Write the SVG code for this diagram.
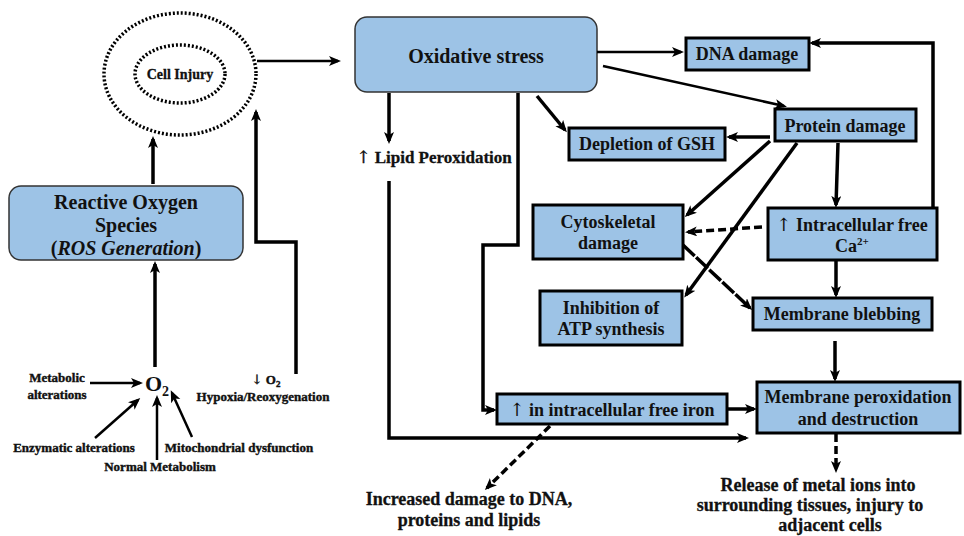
<svg xmlns="http://www.w3.org/2000/svg" width="964" height="536" viewBox="0 0 964 536">
<defs>
<marker id="ah" markerUnits="userSpaceOnUse" markerWidth="13" markerHeight="11" refX="9" refY="5" orient="auto">
<path d="M0,0 L12,5 L0,10 L3,5 z" fill="#000"/>
</marker>
</defs>
<style>
text{font-family:'Liberation Serif','Tinos','DejaVu Serif',serif;font-weight:bold;fill:#111;text-anchor:middle}
.ar{font-family:'DejaVu Serif','DejaVu Sans',serif;font-weight:normal}
.box{fill:#9DC3E6;stroke:#000;stroke-width:3}
.rbox{fill:#9DC3E6;stroke:#333;stroke-width:1.5}
.dot{fill:none;stroke:#000;stroke-width:3.5;stroke-dasharray:2 2}
.c{fill:none;stroke:#000;stroke-width:3.5;marker-end:url(#ah)}
.t{stroke-width:2.5}
.d{stroke-dasharray:8 4}
.d2{stroke-dasharray:16 2}
.b{font-size:18px}
.s{font-size:13px;stroke:#111;stroke-width:0.4}
.l{font-size:18px;stroke:#111;stroke-width:0.3}
</style>
<rect width="964" height="536" fill="#fff"/>

<g id="cell-injury">
<ellipse class="dot" cx="180" cy="74" rx="76" ry="61"/>
<ellipse class="dot" cx="180" cy="74" rx="45" ry="29"/>
<text x="180" y="79" style="font-size:14px;stroke:#111;stroke-width:0.3">Cell Injury</text>
</g>

<g id="ros">
<rect class="rbox" x="9" y="186" width="234" height="74" rx="12"/>
<text x="126" y="209" style="font-size:20px">Reactive Oxygen</text>
<text x="126" y="232" style="font-size:20px">Species</text>
<text x="126" y="255" style="font-size:20px">(<tspan font-style="italic">ROS Generation</tspan>)</text>
</g>

<g id="o2">
<text x="157" y="391" style="font-size:22px">O<tspan font-size="14" dy="5">2</tspan></text>
</g>
<g id="metabolic"><text class="s" x="57" y="382">Metabolic</text><text class="s" x="57" y="399">alterations</text></g>
<g id="enzymatic"><text class="s" x="74" y="452">Enzymatic alterations</text></g>
<g id="normal"><text class="s" x="160" y="471">Normal Metabolism</text></g>
<g id="mito"><text class="s" x="239" y="452">Mitochondrial dysfunction</text></g>
<g id="hypoxia">
<text class="s" x="266" y="384"><tspan class="ar">↓</tspan> O<tspan font-size="9" dy="3">2</tspan></text>
<text class="s" x="263" y="401">Hypoxia/Reoxygenation</text>
</g>

<g id="oxidative-stress">
<rect class="rbox" x="355" y="17" width="242" height="75" rx="12"/>
<text x="476" y="63" style="font-size:20px">Oxidative stress</text>
</g>

<g id="lipid"><text x="434" y="163" style="font-size:17px;stroke:#111;stroke-width:0.3"><tspan class="ar">↑</tspan> Lipid Peroxidation</text></g>

<g id="dna"><rect class="box" x="686" y="38" width="123" height="32"/><text class="b" x="747" y="60">DNA damage</text></g>
<g id="protein"><rect class="box" x="775" y="109" width="141" height="32"/><text class="b" x="845" y="132">Protein damage</text></g>
<g id="gsh"><rect class="box" x="569" y="128" width="156" height="32"/><text class="b" x="647" y="150">Depletion of GSH</text></g>
<g id="cyto"><rect class="box" x="533" y="205" width="150" height="54"/><text class="b" x="608" y="228">Cytoskeletal</text><text class="b" x="608" y="249">damage</text></g>
<g id="atp"><rect class="box" x="540" y="291" width="142" height="54"/><text class="b" x="611" y="314">Inhibition of</text><text class="b" x="611" y="335">ATP synthesis</text></g>
<g id="calcium"><rect class="box" x="768" y="208" width="169" height="52"/><text class="b" x="852" y="231"><tspan class="ar">↑</tspan> Intracellular free</text><text class="b" x="852" y="252">Ca<tspan font-size="11" dy="-7">2+</tspan></text></g>
<g id="blebbing"><rect class="box" x="753" y="298" width="179" height="32"/><text class="b" x="842" y="320">Membrane blebbing</text></g>
<g id="iron"><rect class="box" x="497" y="394" width="230" height="30"/><text class="b" x="612" y="416"><tspan class="ar">↑</tspan> in intracellular free iron</text></g>
<g id="membrane-perox"><rect class="box" x="757" y="382" width="203" height="51"/><text class="b" x="858" y="403">Membrane peroxidation</text><text class="b" x="858" y="425">and destruction</text></g>

<g id="increased"><text class="l" x="469" y="505">Increased damage to DNA,</text><text class="l" x="469" y="526">proteins and lipids</text></g>
<g id="release"><text class="l" x="818" y="491">Release of metal ions into</text><text class="l" x="810" y="511">surrounding tissues, injury to</text><text class="l" x="830" y="531">adjacent cells</text></g>

<g id="connectors">
<path class="c t" d="M257 61 H338"/>
<path class="c" d="M153 184 V139"/>
<path class="c" d="M155 367 V264"/>
<path class="c" d="M296 374 V242 H256 V112"/>
<path class="c t" d="M90 383 H140"/>
<path class="c t" d="M95 438 L138 400"/>
<path class="c t" d="M157 460 V398"/>
<path class="c t" d="M192 437 L172 393"/>
<path class="c t" d="M597 52 H681"/>
<path class="c t" d="M603 66 L784 106"/>
<path class="c" d="M537 96 L565 130"/>
<path class="c" d="M389 93 V141"/>
<path class="c" d="M389 181 V438 H746"/>
<path class="c" d="M518 93 V245 H483 V410 H494"/>
<path class="c" d="M770 137 H729"/>
<path class="c" d="M770 141 L687 215"/>
<path class="c" d="M797 143 L686 295"/>
<path class="c" d="M838 143 L836 205"/>
<path class="c" d="M933 207 V43 H812"/>
<path class="c d" d="M762 227 L688 232"/>
<path class="c" d="M836 261 V295"/>
<path class="c d2" d="M683 245 L750 308"/>
<path class="c" d="M835 341 V379"/>
<path class="c" d="M728 409 H754"/>
<path class="c d" d="M550 426 L487 488"/>
<path class="c d" d="M836 434 V470"/>
</g>
</svg>
